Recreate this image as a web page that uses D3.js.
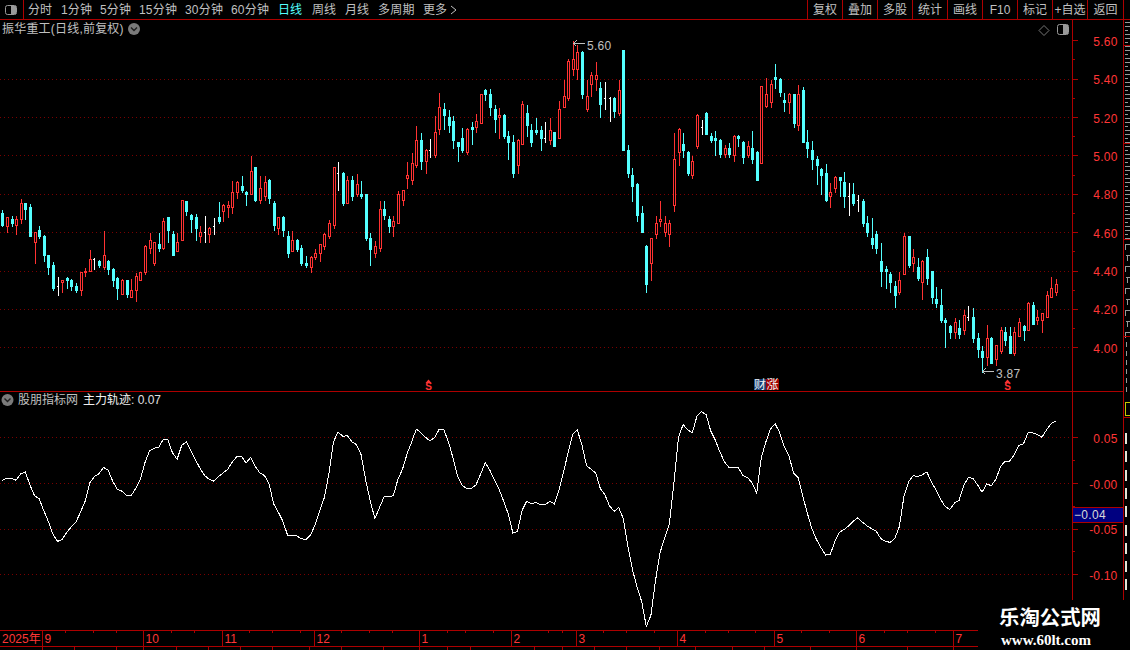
<!DOCTYPE html>
<html><head><meta charset="utf-8">
<script src="https://cdn.jsdelivr.net/npm/d3@7/dist/d3.min.js"></script>
<style>
html,body{margin:0;padding:0;background:#000;overflow:hidden}
svg{display:block}
text{font-family:"Liberation Sans","Noto Sans CJK SC",sans-serif;font-size:12px}
</style></head><body><svg id="c" width="1130" height="650"></svg>
<script>
const high=[4.72,4.68,4.69,4.69,4.78,4.75,4.75,4.60,4.64,4.59,
4.48,4.45,4.37,4.35,4.37,4.36,4.34,4.39,4.42,4.51,
4.47,4.46,4.61,4.46,4.42,4.37,4.36,4.35,4.36,4.39,
4.39,4.54,4.60,4.55,4.60,4.68,4.68,4.61,4.60,4.77,
4.76,4.70,4.70,4.64,4.69,4.63,4.68,4.76,4.75,4.77,
4.87,4.87,4.90,4.82,5.00,4.94,4.90,4.90,4.88,4.77,
4.68,4.69,4.61,4.61,4.57,4.54,4.48,4.48,4.52,4.54,
4.60,4.67,4.94,4.97,4.92,4.90,4.90,4.91,4.87,4.80,
4.60,4.56,4.77,4.77,4.69,4.69,4.82,4.82,4.97,5.02,
5.16,5.12,5.04,5.09,5.21,5.33,5.28,5.24,5.21,5.07,
5.15,5.15,5.18,5.22,5.32,5.35,5.35,5.27,5.25,5.22,
5.13,5.11,5.09,5.29,5.27,5.17,5.20,5.16,5.18,5.20,
5.12,5.29,5.40,5.51,5.60,5.58,5.55,5.40,5.44,5.49,
5.39,5.39,5.31,5.31,5.40,5.55,5.06,4.94,4.86,4.74,
4.54,4.57,4.69,4.77,4.69,4.67,5.12,5.15,5.12,5.03,
5.00,5.22,5.19,5.23,5.12,5.13,5.09,5.06,5.07,5.11,
5.11,5.08,5.08,5.13,5.03,5.36,5.41,5.40,5.48,5.41,
5.33,5.33,5.32,5.37,5.36,5.14,5.08,5.00,4.94,4.96,
4.86,4.90,4.89,4.92,4.86,4.86,4.80,4.78,4.69,4.68,
4.61,4.55,4.43,4.40,4.35,4.40,4.60,4.58,4.52,4.47,
4.46,4.52,4.40,4.32,4.31,4.16,4.12,4.16,4.15,4.20,
4.22,4.21,4.08,4.01,4.12,4.06,4.01,4.11,4.11,4.11,
4.11,4.16,4.12,4.24,4.24,4.20,4.18,4.30,4.37,4.36];
const low=[4.63,4.60,4.63,4.59,4.65,4.67,4.58,4.44,4.57,4.45,
4.38,4.30,4.27,4.29,4.31,4.30,4.29,4.27,4.37,4.40,
4.41,4.42,4.41,4.38,4.32,4.25,4.28,4.26,4.26,4.24,
4.35,4.38,4.49,4.43,4.50,4.51,4.55,4.48,4.50,4.56,
4.69,4.60,4.56,4.55,4.55,4.55,4.59,4.65,4.66,4.68,
4.70,4.78,4.81,4.74,4.80,4.76,4.75,4.77,4.75,4.61,
4.59,4.58,4.47,4.50,4.50,4.43,4.42,4.39,4.46,4.45,
4.51,4.57,4.62,4.82,4.74,4.75,4.77,4.79,4.78,4.56,
4.43,4.47,4.50,4.67,4.60,4.58,4.65,4.74,4.83,4.85,
4.94,4.93,4.91,4.99,4.99,5.11,5.14,5.12,5.04,4.97,
5.02,5.01,5.06,5.12,5.17,5.29,5.21,5.12,5.09,5.09,
4.98,4.89,4.91,5.06,5.10,5.05,5.11,5.03,5.07,5.06,
5.05,5.09,5.25,5.29,5.42,5.40,5.30,5.23,5.31,5.34,
5.20,5.24,5.18,5.20,5.21,5.03,4.89,4.76,4.66,4.60,
4.29,4.35,4.57,4.63,4.58,4.53,4.71,4.95,4.99,4.90,
4.88,5.04,5.11,5.11,5.07,5.00,4.99,4.99,4.99,4.97,
5.05,4.96,4.99,4.96,4.87,4.96,5.25,5.25,5.35,5.31,
5.23,5.22,5.15,5.13,5.07,4.99,4.93,4.85,4.80,4.76,
4.73,4.81,4.79,4.73,4.69,4.74,4.71,4.63,4.58,4.52,
4.49,4.32,4.31,4.29,4.21,4.28,4.38,4.42,4.40,4.35,
4.25,4.33,4.23,4.21,4.13,4.00,4.05,4.05,4.05,4.07,
4.14,4.03,3.95,3.87,3.91,3.92,3.91,3.97,4.01,3.97,
3.96,4.06,4.04,4.09,4.12,4.12,4.08,4.16,4.26,4.27];
const open=[4.70,4.63,4.67,4.64,4.67,4.75,4.73,4.55,4.61,4.58,
4.48,4.43,4.32,4.34,4.36,4.35,4.32,4.30,4.39,4.40,
4.46,4.45,4.42,4.45,4.41,4.36,4.28,4.35,4.26,4.30,
4.35,4.39,4.52,4.44,4.54,4.52,4.68,4.59,4.50,4.56,
4.76,4.69,4.68,4.58,4.60,4.59,4.63,4.68,4.71,4.73,
4.73,4.81,4.84,4.81,4.80,4.94,4.77,4.79,4.87,4.75,
4.62,4.68,4.58,4.50,4.56,4.52,4.44,4.42,4.47,4.49,
4.53,4.58,4.64,4.91,4.91,4.75,4.87,4.80,4.80,4.80,
4.57,4.49,4.52,4.72,4.67,4.63,4.65,4.77,4.88,4.87,
4.95,5.08,4.97,5.03,5.00,5.14,5.24,5.20,5.18,5.07,
5.09,5.02,5.15,5.15,5.17,5.34,5.32,5.24,5.20,5.21,
5.10,5.07,4.95,5.06,5.22,5.13,5.13,5.13,5.09,5.08,
5.12,5.09,5.25,5.30,5.45,5.45,5.54,5.24,5.37,5.40,
5.35,5.30,5.30,5.30,5.22,5.55,5.03,4.90,4.85,4.70,
4.53,4.44,4.59,4.66,4.60,4.59,4.74,5.02,5.06,5.02,
4.90,5.05,5.15,5.22,5.10,5.09,5.08,5.01,5.04,5.00,
5.10,5.07,5.00,5.04,5.02,4.96,5.26,5.28,5.41,5.40,
5.29,5.28,5.32,5.16,5.34,5.07,5.03,4.98,4.93,4.91,
4.79,4.83,4.89,4.86,4.79,4.80,4.77,4.76,4.65,4.57,
4.59,4.45,4.41,4.38,4.32,4.29,4.38,4.58,4.44,4.42,
4.34,4.47,4.40,4.25,4.22,4.14,4.11,4.08,4.10,4.09,
4.16,4.16,4.05,3.98,3.95,4.05,3.94,3.98,4.08,4.06,
3.97,4.06,4.11,4.09,4.22,4.14,4.14,4.16,4.26,4.29];
const close=[4.64,4.68,4.65,4.67,4.75,4.72,4.58,4.60,4.58,4.48,
4.42,4.31,4.32,4.35,4.35,4.32,4.30,4.39,4.40,4.46,
4.46,4.43,4.48,4.41,4.35,4.31,4.35,4.28,4.30,4.37,
4.39,4.53,4.56,4.55,4.52,4.66,4.61,4.48,4.55,4.77,
4.71,4.67,4.62,4.60,4.60,4.62,4.63,4.66,4.74,4.74,
4.81,4.86,4.82,4.80,4.92,4.77,4.83,4.86,4.78,4.64,
4.68,4.61,4.49,4.56,4.51,4.44,4.43,4.47,4.49,4.54,
4.59,4.65,4.94,4.91,4.75,4.87,4.79,4.85,4.79,4.57,
4.51,4.53,4.72,4.69,4.63,4.66,4.80,4.82,4.90,4.96,
5.08,4.97,5.03,5.03,5.12,5.25,5.21,5.16,5.08,5.05,
5.03,5.14,5.14,5.18,5.32,5.32,5.25,5.19,5.21,5.10,
5.07,4.91,5.08,5.27,5.16,5.07,5.12,5.09,5.09,5.13,
5.05,5.24,5.31,5.49,5.50,5.54,5.32,5.31,5.42,5.42,
5.27,5.30,5.30,5.23,5.34,5.03,4.91,4.84,4.69,4.60,
4.33,4.57,4.65,4.67,4.65,4.65,4.98,5.14,5.03,4.91,
4.97,5.21,5.15,5.11,5.08,5.08,5.01,5.04,5.01,5.10,
5.09,4.99,5.05,4.98,4.87,5.36,5.32,5.37,5.40,5.33,
5.28,5.32,5.17,5.32,5.07,5.04,4.98,4.95,4.90,4.77,
4.81,4.89,4.87,4.79,4.79,4.75,4.77,4.65,4.60,4.54,
4.52,4.40,4.40,4.34,4.27,4.35,4.58,4.43,4.47,4.36,
4.45,4.36,4.26,4.23,4.14,4.13,4.08,4.13,4.07,4.17,
4.16,4.05,3.99,3.95,4.05,3.92,4.01,4.09,4.04,3.97,
4.08,4.13,4.09,4.23,4.12,4.16,4.18,4.27,4.31,4.33];
const track=[.003,.005,.005,.003,.010,.012,-.002,-.014,-.017,-.030,
-.042,-.056,-.064,-.062,-.054,-.048,-.043,-.032,-.020,0,
.007,.010,.017,.014,.002,-.007,-.009,-.014,-.014,-.006,
.004,.022,.035,.038,.039,.048,.047,.033,.026,.041,
.045,.035,.025,.016,.008,.004,.002,.007,.011,.015,
.023,.029,.029,.022,.028,.018,.011,.008,-.001,-.023,
-.032,-.042,-.057,-.058,-.058,-.061,-.062,-.057,-.046,-.031,
-.016,.010,.045,.056,.051,.052,.045,.042,.031,.003,
-.020,-.039,-.027,-.015,-.015,-.014,.004,.015,.032,.045,
.059,.055,.050,.046,.050,.059,.058,.045,.027,.007,
-.003,-.006,-.006,-.002,.010,.022,.014,.003,-.007,-.020,
-.034,-.055,-.053,-.030,-.020,-.023,-.021,-.024,-.024,-.020,
-.023,-.008,.012,.033,.053,.058,.042,.019,.015,.011,
-.006,-.013,-.025,-.031,-.027,-.039,-.070,-.095,-.114,-.130,
-.157,-.145,-.107,-.076,-.060,-.045,0,.050,.064,.058,
.055,.073,.078,.075,.057,.047,.034,.023,.017,.017,
.017,.008,.006,0,-.011,.028,.045,.059,.065,.055,
.040,.030,.011,.006,-.014,-.033,-.050,-.062,-.071,-.079,
-.078,-.064,-.054,-.051,-.047,-.042,-.038,-.043,-.047,-.050,
-.053,-.061,-.064,-.065,-.061,-.048,-.015,.001,.008,.007,
.009,.012,.001,-.008,-.018,-.026,-.029,-.022,-.019,-.003,
.006,.005,-.002,-.010,-.001,-.003,.004,.018,.024,.024,
.031,.041,.043,.055,.055,.053,.050,.058,.065,.068];

const priceTicks=[5.6,5.4,5.2,5.0,4.8,4.6,4.4,4.2,4.0];
const priceMinor=[5.5,5.3,5.1,4.9,4.7,4.5,4.3,4.1];
const trackTicks=[.05,0,-.05,-.10];
const trackLabels=["0.05","-0.00","-0.05","-0.10"];
const trackMinor=[.025,-.025,-.075];
const monthIdx=[9,31,48,68,91,111,125,147,168,186,207];
const monthLabels=["9","10","11","12","1","2","3","4","5","6","7"];
const weekIdx=[14,20,25,37,42,54,59,65,74,80,85,97,101,107,119,122,131,136,142,153,158,164,174,180,192,197,203,213,218,224,229];
const lowerIdx=[9,16,25,31,38,45,52,59,67,74,83,91,97,102,116,122,129,136,143,151,159,166,176,186,197,207];
const leftMenu=[["分时",28],["1分钟",61],["5分钟",100],["15分钟",139],["30分钟",185],["60分钟",231],["日线",278],["周线",312],["月线",345],["多周期",378],["更多",423]];
const rightMenu=["复权","叠加","多股","统计","画线","F10","标记","+自选","返回"];
const rightMenuEdges=[807,842,877,912,947,982,1017,1052,1087,1123];
const sIdx=[92,218];

const RED="#ad0000",TXT="#ff3636",GRID="#7a0000",CY="#54ffff",UP="#ff3232",GR="#c0c0c0";
const svg=d3.select("#c");
svg.append("rect").attr("width",1130).attr("height",650).attr("fill","#000");
const x=d3.scaleLinear().domain([0,229]).range([2.3,1055.7]);
const y=d3.scaleLinear().domain([4,5.6]).range([347.3,40.3]);
const y2=d3.scaleLinear().domain([-.1,.05]).range([574.3,437.3]);
const px=i=>Math.round(x(i))+.5, py=v=>Math.round(y(v))+.5;
const hl=(a,b,yy,c,g)=>(g||svg).append("line").attr("x1",a).attr("x2",b).attr("y1",yy).attr("y2",yy).attr("stroke",c).attr("shape-rendering","crispEdges");
const vl=(xx,a,b,c,g)=>(g||svg).append("line").attr("x1",xx).attr("x2",xx).attr("y1",a).attr("y2",b).attr("stroke",c).attr("shape-rendering","crispEdges");
const label=(t,xx,yy,c,anchor)=>svg.append("text").text(t).attr("x",xx).attr("y",yy).attr("fill",c).attr("dominant-baseline","central").attr("text-anchor",anchor||"start");

// grids
priceTicks.slice(1).forEach(v=>hl(0,1072,Math.round(y(v))+.5,GRID).attr("stroke-dasharray","1,3"));
trackTicks.forEach(v=>hl(0,1072,Math.round(y2(v))+.5,GRID).attr("stroke-dasharray","1,3"));

// candles
const cg=svg.append("g").attr("shape-rendering","crispEdges");
d3.range(high.length).forEach(i=>{
  const cx=px(i),o=open[i],c=close[i];
  const col=c>o?UP:(c<o?CY:"#fff");
  cg.append("line").attr("x1",cx).attr("x2",cx).attr("y1",py(high[i])).attr("y2",py(low[i])+.5).attr("stroke",col);
  if(c>o){
    cg.append("rect").attr("x",cx-1).attr("width",2).attr("y",py(c)).attr("height",Math.max(py(o)-py(c),1)).attr("fill","#000").attr("stroke",col);
  }else if(c<o){
    cg.append("rect").attr("x",cx-1.5).attr("width",3).attr("y",py(o)-.5).attr("height",Math.max(py(c)-py(o)+1,1)).attr("fill",col);
  }else{
    cg.append("line").attr("x1",cx-2).attr("x2",cx).attr("y1",py(c)).attr("y2",py(c)).attr("stroke",col);
  }
});

// high / low markers
const hi=d3.maxIndex(high),lo=d3.minIndex(low);
const mark=(i,yy,v)=>{
  const a=px(i);
  hl(a,a+11,yy,GR);
  svg.append("path").attr("d",`M${a+3},${yy-3}L${a},${yy}L${a+3},${yy+3}`).attr("fill","none").attr("stroke",GR).attr("shape-rendering","crispEdges");
  label(d3.format(".2f")(v),a+13.5,yy+2,GR).attr("letter-spacing",".3px");
};
mark(hi,43.5,high[hi]); mark(lo,371.5,low[lo]);

// s markers
sIdx.forEach(i=>{
  const a=px(i)+2;
  svg.append("path").attr("d",`M${a-3},383L${a},379.5L${a+3},383Z`).attr("fill",UP);
  svg.append("text").text("S").attr("x",a).attr("y",386.5).attr("fill",UP).attr("text-anchor","middle").attr("dominant-baseline","central").attr("font-weight","bold").style("font-size","10px");
});
svg.append("rect").attr("x",754).attr("y",379).attr("width",12).attr("height",11).attr("fill","#163f78");
svg.append("rect").attr("x",766).attr("y",379).attr("width",13).attr("height",11).attr("fill","#a00000");
label("财",754,384.5,"#f0f0f0");
label("涨",766.5,384.5,"#f4f4f4");

// indicator line
const line=d3.line().x((d,i)=>x(i)).y(d=>y2(d));
svg.append("path").attr("d",line(track)).attr("fill","none").attr("stroke","#fff").attr("stroke-width",1).attr("shape-rendering","crispEdges");

// frames
hl(0,1130,19.5,RED);
vl(23.5,0,19,RED);
hl(0,1123,391.5,RED);
vl(1072.5,19,600,RED);
vl(1123.5,0,600,RED);
rightMenuEdges.forEach(e=>vl(e+.5,0,19,RED));

// axes
const axP=svg.append("g").attr("transform","translate(1072,0)")
 .call(d3.axisRight(y).tickValues(priceTicks).tickSize(6).tickFormat(d3.format(".2f")));
const axPm=svg.append("g").attr("transform","translate(1072,0)")
 .call(d3.axisRight(y).tickValues(priceMinor).tickSize(3).tickFormat(""));
const ax2=svg.append("g").attr("transform","translate(1072,0)")
 .call(d3.axisRight(y2).tickValues(trackTicks).tickSize(6).tickFormat((d,i)=>trackLabels[i]));
const ax2m=svg.append("g").attr("transform","translate(1072,0)")
 .call(d3.axisRight(y2).tickValues(trackMinor).tickSize(3).tickFormat(""));
[axP,axPm,ax2,ax2m].forEach(a=>{
  a.select(".domain").remove();
  a.attr("font-family",null).attr("font-size",null);
  a.selectAll("line").attr("stroke",RED).attr("shape-rendering","crispEdges");
  a.selectAll("text").attr("x",45.5).attr("dy","0.42em").attr("text-anchor","end").attr("fill",TXT).attr("letter-spacing",".2px");
});

// current value box
svg.append("rect").attr("x",1073).attr("y",507).attr("width",50).attr("height",16).attr("fill","#000080");
hl(1073,1123,507.5,RED); hl(1073,1123,522.5,RED);
label(d3.format(".2f")(-.04),1074,515,"#d8d8d8").attr("letter-spacing",".3px");

// menu
leftMenu.forEach(d=>label(d[0],d[1],10,d[0]==="日线"?CY:GR).attr("letter-spacing",d[0].length>2?".2px":"0"));
svg.append("path").attr("d","M451,6L456,10L451,14").attr("fill","none").attr("stroke",GR);
rightMenu.forEach((t,i)=>label(t,(rightMenuEdges[i]+rightMenuEdges[i+1])/2+.5,10,GR,"middle"));
svg.append("rect").attr("x",5.5).attr("y",5.5).attr("width",11).attr("height",9).attr("rx",2).attr("fill","none").attr("stroke","#999");
svg.append("rect").attr("x",11).attr("y",6).attr("width",5).attr("height",8).attr("fill","#999");

// titles
label("振华重工(日线,前复权)",2,29,GR).attr("letter-spacing",".2px");
const chev=(cx,cy)=>{
  svg.append("circle").attr("cx",cx).attr("cy",cy).attr("r",6).attr("fill","#7a7a7a");
  svg.append("path").attr("d",`M${cx-3},${cy-1.5}L${cx},${cy+1.5}L${cx+3},${cy-1.5}`).attr("fill","none").attr("stroke","#1e1e1e").attr("stroke-width",1.4);
};
chev(134,29); chev(7.5,400);
label("股朋指标网",18,400,GR);
label("主力轨迹",83,400,"#f0f0f0");
label(": "+d3.format(".2f")(track[track.length-1]),131,400,"#e0e0e0");
svg.append("path").attr("d","M1044,25.5L1049,30.5L1044,35.5L1039,30.5Z").attr("fill","none").attr("stroke","#777");
svg.append("rect").attr("x",1057.5).attr("y",24.5).attr("width",11).attr("height",10).attr("rx",2).attr("fill","none").attr("stroke","#999");
svg.append("rect").attr("x",1063).attr("y",25).attr("width",5).attr("height",9).attr("fill","#999");

// time axis
hl(0,978,630.5,RED); hl(0,978,646.5,RED);
monthIdx.forEach((i,k)=>{
  const a=Math.round(x(i)-1.5)+.5;
  vl(a,630,646,RED);
  label(monthLabels[k],a+2,639,TXT);
});
weekIdx.forEach(i=>vl(Math.round(x(i)-1.5)+.5,630,633,RED));
lowerIdx.forEach(i=>vl(Math.round(x(i)-1.5)+.5,646,650,RED));
label("2025年",2,639,TXT);

// far-right strip: only slivers of the side panel are visible in the reference
const side=svg.append("g").attr("shape-rendering","crispEdges");
d3.range(22,240,4).forEach((v,k)=>hl(1125,k%3===2?1128:1130,v+.5,"#9a9a9a",side));
d3.range(244,336,11).forEach((v,k)=>{hl(1126,1130,v+.5,"#9a9a9a",side);vl(k%2?1127.5:1125.5,v,v+6,"#9a9a9a",side);});
d3.range(342,390,9).forEach(v=>vl(1126.5,v,v+5,"#9a9a9a",side));
d3.range(9).forEach(k=>side.append("rect").attr("x",1125).attr("y",433+k*18.3).attr("width",2).attr("height",11).attr("fill","#e4e4d8"));
[45,143,239,336,417].forEach(v=>hl(1124,1130,v+.5,RED));
svg.append("rect").attr("x",1125.5).attr("y",402.5).attr("width",6).attr("height",13).attr("fill","none").attr("stroke","#c8c800");

// watermark
svg.append("rect").attr("x",978).attr("y",600).attr("width",152).attr("height",50).attr("fill","#000");
vl(1072.5,391,600,RED);
label("乐淘公式网",999,618,"#fff").attr("font-weight","bold").style("font-size","20.4px");
label("www.60lt.com",1001,640,"#fff").attr("font-weight","bold").style("font-size","15px").style("font-family","'Liberation Serif',serif");
</script></body></html>
